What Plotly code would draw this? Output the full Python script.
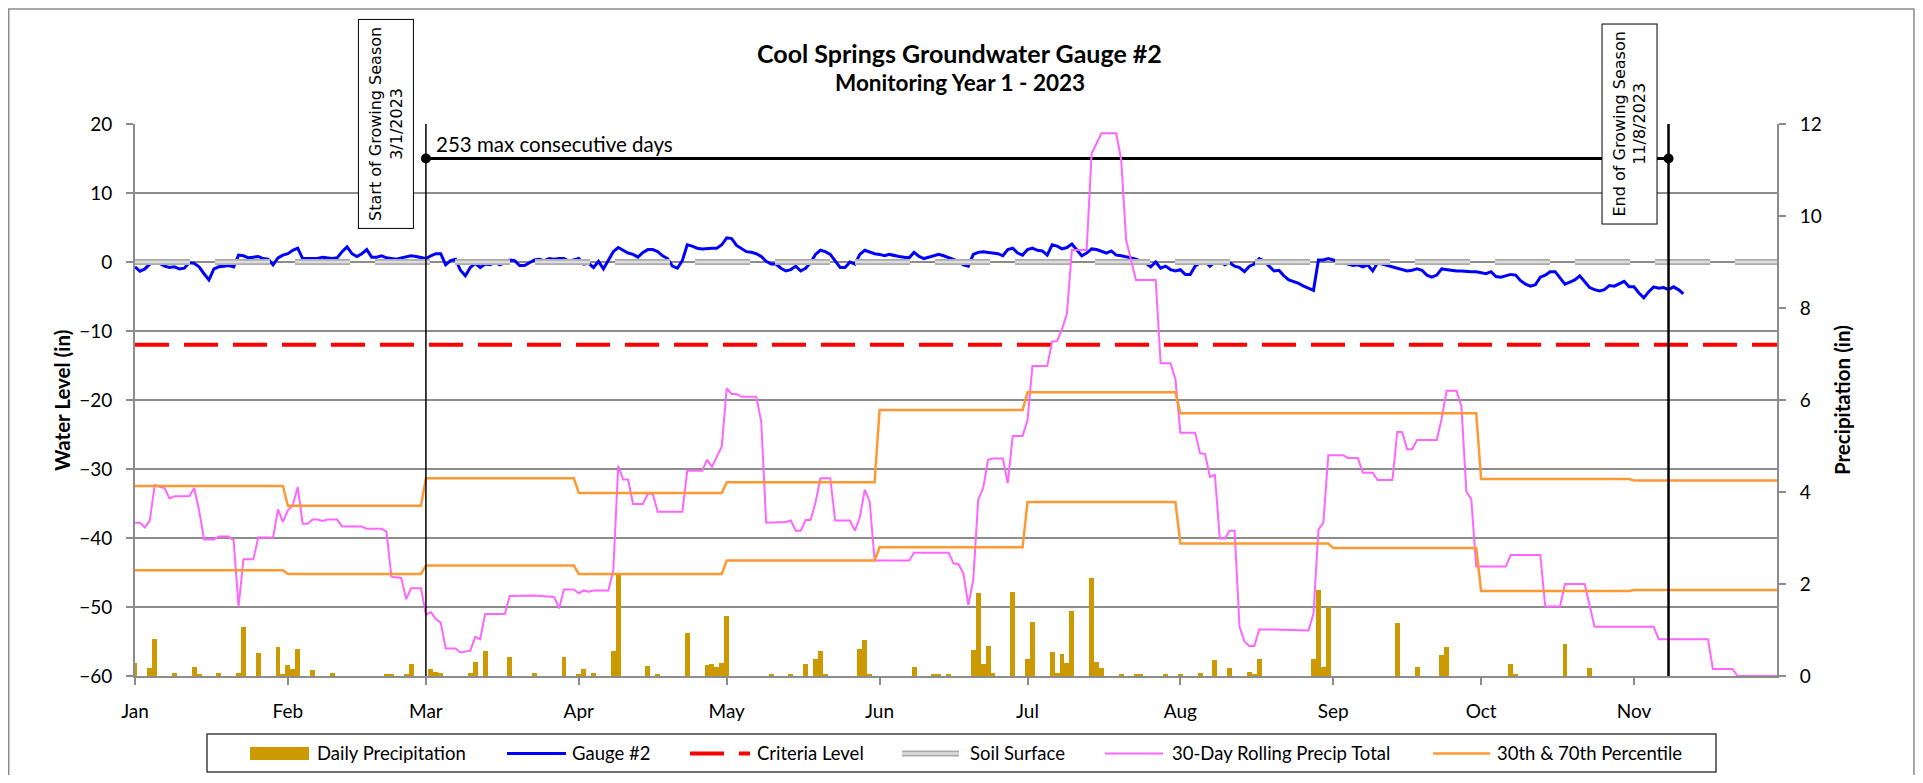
import pandas as pd
import plotly.graph_objects as go

YEAR_START = pd.Timestamp('2023-01-01')
AXIS_END = pd.Timestamp('2023-11-30')
SEASON_START = pd.Timestamp('2023-03-01')
SEASON_END = pd.Timestamp('2023-11-08')

# groundwater gauge, daily readings (in), from Jan 1
gauge_jan = [-0.7, -1.35, -1.0, -0.3, 0.0, -0.2, -0.6, -0.8, -0.7, -1.0, -0.9, -0.1, -0.2, -0.7, -1.7, -2.6,
             -1.0, -0.7, -0.6, -0.5, -0.7, 1.0, 0.9, 0.6, 0.7, 0.8, 0.5, 0.4, -0.4, 0.6, 1.0]
gauge_feb = [1.2, 1.7, 2.0, 0.5, 0.5, 0.6, 0.5, 0.7, 0.6, 0.5, 0.6, 1.5, 2.2, 1.2, 0.8, 1.2, 1.8, 0.7, 0.7, 0.9,
             0.6, 0.5, 0.4, 0.6, 0.8, 0.9, 0.8, 0.6]
gauge_mar = [0.5, 0.9, 1.2, 1.2, -0.4, 0.2, 0.4, -1.2, -2.0, -0.8, -0.2, -0.8, -0.3, -0.4, -0.1, -0.4, -0.1, 0.3,
             0.2, -0.5, -0.5, -0.1, 0.3, 0.4, 0.2, 0.5, 0.4, 0.5, 0.5, 0.1, 0.3]
gauge_apr = [0.5, -0.3, -0.2, -0.8, 0.1, -1.0, 0.2, 1.5, 2.1, 1.7, 1.3, 1.1, 0.7, 1.4, 1.8, 1.8, 1.5, 0.9, 0.5,
             -0.6, -0.9, 0.2, 2.5, 2.3, 2.0, 1.9, 2.0, 2.0, 2.0, 2.5]
gauge_may = [3.5, 3.4, 2.4, 1.9, 1.5, 1.4, 1.2, 0.8, 0.1, -0.3, -0.3, -0.9, -1.3, -1.1, -0.6, -1.3, -0.9, -0.1,
             1.1, 1.7, 1.5, 1.1, 0.2, -0.8, -0.8, 0.0, -0.3, 1.1, 1.7, 1.4, 1.2]
gauge_jun = [1.1, 0.9, 1.1, 0.9, 0.8, 0.7, 0.6, 1.4, 0.8, 0.5, 0.7, 0.8, 1.1, 0.9, 0.6, 0.3, 0.1, -0.4, -0.6,
             1.1, 1.4, 1.5, 1.4, 1.2, 1.2, 0.9, 1.8, 2.0, 1.3, 1.0]
gauge_jul = [1.8, 2.0, 1.7, 1.6, 1.0, 2.5, 2.3, 1.9, 2.1, 2.6, 1.8, 0.9, 1.3, 1.9, 1.8, 1.5, 1.3, 1.6, 1.0, 0.9,
             0.8, 0.6, 0.4, 0.1, -0.2, -0.7, 0.0, -0.9, -0.6, -1.1, -1.3]
gauge_aug = [-1.1, -1.8, -1.8, -0.6, -0.1, 0.1, -0.6, 0.0, 0.2, -0.4, -0.1, -0.6, -0.8, -1.4, -0.6, -0.3, 0.5,
             0.1, -0.6, -1.3, -1.2, -2.0, -2.6, -2.8, -3.1, -3.5, -3.8, -4.1, 0.3, 0.3, 0.5]
gauge_sep = [0.3, 0.0, -0.1, -0.3, -0.5, -0.4, -0.7, -0.4, -1.3, -0.1, -0.3, -0.5, -0.7, -0.8, -1.0, -1.3, -1.2,
             -1.0, -1.2, -1.9, -2.2, -1.9, -1.0, -1.1, -1.3, -1.3, -1.3, -1.4, -1.4, -1.4]
gauge_oct = [-1.5, -1.7, -1.4, -2.1, -2.2, -2.0, -1.8, -1.9, -2.7, -3.2, -3.5, -3.3, -2.2, -1.9, -1.4, -1.4, -2.3,
             -3.2, -2.9, -2.6, -2.0, -2.8, -3.7, -4.0, -4.2, -4.0, -3.4, -3.5, -3.2, -2.8, -3.6]
gauge_nov = [-3.6, -4.5, -5.2, -4.3, -3.6, -3.8, -3.7, -4.0, -3.6, -4.0, -4.6]
gauge_in = (gauge_jan + gauge_feb + gauge_mar + gauge_apr + gauge_may + gauge_jun + gauge_jul
            + gauge_aug + gauge_sep + gauge_oct + gauge_nov)

# daily precipitation (in), day of year counted from Jan 1 = 0
precip_day = [0, 3, 4, 8, 12, 13, 17, 21, 22, 25, 29, 30, 31, 32, 33, 36, 40, 51, 52, 55, 56, 60, 61, 62, 68, 69,
              71, 76, 81, 87, 90, 91, 93, 97, 98, 104, 106, 112, 116, 117, 118, 119, 120, 129, 133, 136, 138, 139,
              140, 147, 148, 149, 158, 162, 163, 165, 170, 171, 172, 173, 174, 178, 181, 182, 186, 187, 188, 189,
              190, 194, 195, 196, 200, 203, 204, 209, 212, 216, 219, 222, 226, 227, 228, 239, 240, 241, 242, 256,
              260, 265, 266, 279, 280, 290, 295]
precip_in = [0.29, 0.17, 0.80, 0.06, 0.19, 0.04, 0.07, 0.07, 1.06, 0.51, 0.62, 0.05, 0.24, 0.15, 0.58, 0.12, 0.07,
             0.04, 0.04, 0.04, 0.26, 0.15, 0.08, 0.06, 0.06, 0.31, 0.55, 0.42, 0.06, 0.41, 0.04, 0.16, 0.07, 0.55,
             2.20, 0.22, 0.04, 0.94, 0.24, 0.26, 0.19, 0.29, 1.30, 0.04, 0.04, 0.26, 0.38, 0.55, 0.04, 0.58, 0.78,
             0.04, 0.20, 0.04, 0.04, 0.04, 0.57, 1.80, 0.27, 0.65, 0.06, 1.82, 0.38, 1.18, 0.52, 0.06, 0.48, 0.29,
             1.41, 2.14, 0.31, 0.18, 0.04, 0.04, 0.04, 0.04, 0.04, 0.07, 0.34, 0.18, 0.09, 0.05, 0.37, 0.36, 1.88,
             0.19, 1.49, 1.15, 0.20, 0.46, 0.64, 0.26, 0.04, 0.69, 0.17]

# 30-day rolling precipitation total (in)
rolling_day = [0, 1, 2, 3, 4, 6, 7, 8, 11, 12, 13, 14, 16, 17, 19, 20, 21, 22, 24, 25, 28, 29, 30, 31, 32, 33, 34,
               35, 36, 37, 38, 39, 41, 42, 46, 47, 50, 51, 52, 54, 55, 56, 58, 59, 60, 61, 62, 63, 65, 66, 68, 69,
               70, 71, 75, 76, 81, 85, 86, 87, 89, 90, 91, 92, 93, 96, 97, 98, 99, 100, 101, 103, 104, 105, 106,
               111, 112, 115, 116, 117, 118, 119, 120, 121, 122, 123, 126, 127, 128, 132, 133, 134, 135, 136, 137,
               138, 139, 141, 142, 145, 146, 147, 148, 149, 150, 157, 158, 165, 166, 167, 168, 169, 170, 171, 172,
               173, 174, 176, 177, 178, 180, 181, 182, 185, 186, 187, 188, 189, 190, 193, 194, 196, 199, 200, 201,
               203, 207, 208, 210, 211, 212, 215, 216, 217, 218, 219, 220, 221, 222, 223, 224, 225, 226, 227, 228,
               231, 238, 239, 240, 241, 242, 245, 246, 248, 249, 251, 252, 255, 256, 257, 258, 259, 260, 264, 265,
               266, 268, 269, 270, 271, 272, 278, 279, 285, 286, 289, 290, 294, 296, 308, 309, 319, 320, 324, 325,
               333]
rolling_in = [3.33, 3.33, 3.23, 3.38, 4.15, 4.08, 3.86, 3.91, 3.91, 4.08, 3.60, 2.97, 2.97, 3.03, 3.03, 2.95, 1.51,
              2.54, 2.54, 3.01, 3.01, 3.62, 3.35, 3.60, 3.71, 4.11, 3.31, 3.31, 3.40, 3.40, 3.37, 3.40, 3.40, 3.25,
              3.25, 3.20, 3.20, 3.14, 2.16, 2.13, 1.67, 1.91, 1.91, 1.33, 1.39, 1.24, 1.16, 0.60, 0.60, 0.51, 0.55,
              0.85, 0.80, 1.35, 1.35, 1.74, 1.75, 1.72, 1.47, 1.88, 1.88, 1.80, 1.86, 1.83, 1.86, 1.86, 2.30, 4.57,
              4.27, 4.27, 3.74, 3.74, 3.96, 3.96, 3.57, 3.57, 4.46, 4.46, 4.70, 4.55, 4.77, 4.99, 6.25, 6.13, 6.13,
              6.07, 6.07, 5.53, 3.33, 3.35, 3.38, 3.16, 3.16, 3.39, 3.39, 3.77, 4.30, 4.30, 3.38, 3.38, 3.16, 3.45,
              4.05, 3.79, 2.51, 2.51, 2.68, 2.68, 2.45, 2.43, 2.23, 1.54, 2.09, 3.83, 4.08, 4.70, 4.73, 4.73, 4.19,
              5.22, 5.22, 5.56, 6.74, 6.74, 7.27, 7.28, 7.54, 7.88, 9.26, 9.26, 11.36, 11.80, 11.80, 11.22, 9.48,
              8.61, 8.61, 6.80, 6.80, 6.45, 5.29, 5.29, 4.84, 4.83, 4.33, 4.37, 2.99, 2.99, 3.16, 3.16, 1.07, 0.75,
              0.65, 0.65, 1.01, 1.01, 0.99, 1.36, 3.18, 3.33, 4.80, 4.80, 4.74, 4.74, 4.42, 4.42, 4.26, 4.26, 5.31,
              5.30, 4.93, 4.93, 5.13, 5.13, 5.60, 6.20, 6.20, 5.86, 4.01, 3.84, 2.38, 2.38, 2.63, 2.63, 1.51, 1.51,
              2.00, 2.00, 1.07, 1.07, 0.80, 0.80, 0.15, 0.15, 0.00, 0.00]

# monthly 30th / 70th percentile of 30-day precip (in)
months = ['2023-01', '2023-02', '2023-03', '2023-04', '2023-05', '2023-06',
          '2023-07', '2023-08', '2023-09', '2023-10', '2023-11']
pct70 = [4.13, 3.70, 4.30, 3.98, 4.21, 5.78, 6.17, 5.71, 5.71, 4.28, 4.25]
pct30 = [2.30, 2.22, 2.40, 2.22, 2.51, 2.80, 3.78, 2.88, 2.78, 1.85, 1.87]

criteria_level = -12
soil_level = 0
season_marker = 15
consecutive_days = 253

FONT = 'Lato'
GRID = '#8C8C8C'
BAR_COLOR = '#CC9900'
GAUGE_COLOR = '#0000FF'
CRIT_COLOR = '#FF0000'
SOIL_OUTER, SOIL_INNER = '#ABABAB', '#DCDCDC'
ROLL_COLOR = '#FF66FF'
PCT_COLOR = '#FF9933'
CRIT_DASH = '34px,15px'
SOIL_DASH = '55px,25px'

gauge_dates = pd.date_range(YEAR_START, periods=len(gauge_in), freq='D')
precip_dates = YEAR_START + pd.to_timedelta(precip_day, unit='D')
rolling_dates = YEAR_START + pd.to_timedelta(rolling_day, unit='D')

pct_x, p70_y, p30_y = [], [], []
for m, hi, lo in zip(months, pct70, pct30):
    start = pd.Timestamp(m + '-01')
    end = min(start + pd.offsets.MonthEnd(0), AXIS_END)
    pct_x += [start, end]
    p70_y += [hi, hi]
    p30_y += [lo, lo]

fig = go.Figure()

fig.add_trace(go.Bar(
    x=precip_dates, y=precip_in, name='Daily Precipitation', yaxis='y2',
    marker=dict(color=BAR_COLOR, line=dict(width=0)), width=1.0 * 86400000,
))
fig.add_trace(go.Scatter(
    x=gauge_dates, y=gauge_in, mode='lines', name='Gauge #2',
    line=dict(color=GAUGE_COLOR, width=3),
))
fig.add_trace(go.Scatter(
    x=[YEAR_START, AXIS_END], y=[criteria_level] * 2, mode='lines', name='Criteria Level',
    line=dict(color=CRIT_COLOR, width=4, dash=CRIT_DASH),
))
fig.add_trace(go.Scatter(
    x=[YEAR_START, AXIS_END], y=[soil_level] * 2, mode='lines', name='Soil Surface',
    line=dict(color=SOIL_OUTER, width=6, dash=SOIL_DASH),
))
fig.add_trace(go.Scatter(
    x=[YEAR_START, AXIS_END], y=[soil_level] * 2, mode='lines', name='Soil Surface', hoverinfo='skip',
    line=dict(color=SOIL_INNER, width=2.5, dash=SOIL_DASH),
))
fig.add_trace(go.Scatter(
    x=rolling_dates, y=rolling_in, mode='lines', name='30-Day Rolling Precip Total', yaxis='y2',
    line=dict(color=ROLL_COLOR, width=2),
))
fig.add_trace(go.Scatter(
    x=pct_x, y=p70_y, mode='lines', name='70th Percentile', yaxis='y2',
    line=dict(color=PCT_COLOR, width=2.5),
))
fig.add_trace(go.Scatter(
    x=pct_x, y=p30_y, mode='lines', name='30th Percentile', yaxis='y2',
    line=dict(color=PCT_COLOR, width=2.5),
))
# max consecutive days bracket
fig.add_trace(go.Scatter(
    x=[SEASON_START, SEASON_END], y=[season_marker] * 2, mode='lines+markers', name='Growing season',
    line=dict(color='black', width=3), marker=dict(color='black', size=10),
))

for d, w in [(SEASON_START, 1.5), (SEASON_END, 2.5)]:
    fig.add_shape(type='line', xref='x', yref='y', x0=d, x1=d, y0=-60, y1=20,
                  line=dict(color='black', width=w), layer='above')

# chart frame
fig.add_shape(type='rect', xref='paper', yref='paper', x0=-0.0769, x1=1.0834, y0=-0.25, y1=1.2083,
              line=dict(color='#8C8C8C', width=1.5), layer='below')

# legend, laid out like the Excel one (paper coords below the plot)
LEG_Y = -0.1404
fig.add_shape(type='rect', xref='paper', yref='paper', x0=0.04385, x1=0.96285, y0=-0.17391, y1=-0.10507,
              line=dict(color='#404040', width=1.5), fillcolor='white', layer='below')
legend_items = [
    ('Daily Precipitation', 0.07004, 0.10597, 0.10962),
    ('Gauge #2', 0.22655, 0.26248, 0.26492),
    ('Criteria Level', 0.33800, 0.37454, 0.37759),
    ('Soil Surface', 0.46711, 0.50183, 0.50731),
    ('30-Day Rolling Precip Total', 0.59074, 0.62607, 0.63033),
    ('30th & 70th Percentile', 0.79050, 0.82521, 0.82826),
]
sw = {item[0]: item for item in legend_items}
fig.add_shape(type='rect', xref='paper', yref='paper', x0=sw['Daily Precipitation'][1],
              x1=sw['Daily Precipitation'][2], y0=-0.1522, y1=-0.1286, fillcolor=BAR_COLOR, line_width=0)
line_swatches = [
    ('Gauge #2', GAUGE_COLOR, 3, 'solid'),
    ('Criteria Level', CRIT_COLOR, 4, CRIT_DASH),
    ('Soil Surface', SOIL_OUTER, 6, 'solid'),
    ('Soil Surface', SOIL_INNER, 2.5, 'solid'),
    ('30-Day Rolling Precip Total', ROLL_COLOR, 2, 'solid'),
    ('30th & 70th Percentile', PCT_COLOR, 2.5, 'solid'),
]
for name, color, width, dash in line_swatches:
    fig.add_shape(type='line', xref='paper', yref='paper', x0=sw[name][1], x1=sw[name][2], y0=LEG_Y, y1=LEG_Y,
                  line=dict(color=color, width=width, dash=dash))
for name, _, _, tx in legend_items:
    fig.add_annotation(xref='paper', yref='paper', x=tx, y=-0.1395, xanchor='left', yanchor='middle',
                       showarrow=False, text=name, font=dict(family=FONT, size=18.5, color='black'))

fig.add_annotation(xref='paper', yref='paper', x=0.5024, y=1.1286, xanchor='center', yanchor='middle',
                   showarrow=False, text='<b>Cool Springs Groundwater Gauge #2</b>',
                   font=dict(family=FONT, size=25, color='black'))
fig.add_annotation(xref='paper', yref='paper', x=0.5024, y=1.0743, xanchor='center', yanchor='middle',
                   showarrow=False, text='<b>Monitoring Year 1 - 2023</b>',
                   font=dict(family=FONT, size=22.5, color='black'))
fig.add_annotation(x=SEASON_START, y=season_marker, xref='x', yref='y', showarrow=False,
                   xanchor='left', yanchor='bottom', xshift=8, yshift=1,
                   text=f'{consecutive_days} max consecutive days', font=dict(family=FONT, size=20.5, color='black'))

# axis titles
fig.add_annotation(xref='paper', yref='paper', x=-0.0445, y=0.5, xanchor='center', yanchor='middle',
                   showarrow=False, textangle=-90, text='<b>Water Level (in)</b>',
                   font=dict(family=FONT, size=20.5, color='black'))
fig.add_annotation(xref='paper', yref='paper', x=1.0396, y=0.5, xanchor='center', yanchor='middle',
                   showarrow=False, textangle=-90, text='<b>Precipitation (in)</b>',
                   font=dict(family=FONT, size=20.5, color='black'))

box_font = dict(family='DejaVu Sans', size=16, color='black')
fig.add_annotation(x=SEASON_START, xref='x', y=1, yref='paper', showarrow=False, textangle=-90,
                   xanchor='right', yanchor='middle', xshift=-12,
                   text='Start of Growing Season<br>3/1/2023', font=box_font,
                   bgcolor='white', bordercolor='black', borderwidth=1, borderpad=7)
fig.add_annotation(x=SEASON_END, xref='x', y=1, yref='paper', showarrow=False, textangle=-90,
                   xanchor='right', yanchor='middle', xshift=-11,
                   text='End of Growing Season<br>11/8/2023', font=box_font,
                   bgcolor='white', bordercolor='black', borderwidth=1, borderpad=7)

# the page body adds 8px around the figure, so the figure is 16px smaller than the window
fig.update_layout(
    width=1907, height=767,
    margin=dict(l=127, r=138, t=116, b=99),
    paper_bgcolor='white', plot_bgcolor='white',
    font=dict(family=FONT, size=19, color='black'),
    bargap=0,
    showlegend=False,
    xaxis=dict(
        type='date', range=[YEAR_START, AXIS_END], tickformat='%b', dtick='M1', tick0=YEAR_START,
        showgrid=False, showline=True, linecolor=GRID, linewidth=2, automargin=False,
        ticks='outside', ticklen=7, tickcolor=GRID, tickwidth=1.5, ticklabelstandoff=10,
        tickfont=dict(size=19),
    ),
    yaxis=dict(
        range=[-60, 20], dtick=10, showgrid=True, gridcolor=GRID, gridwidth=1.5, zeroline=False,
        showline=True, linecolor=GRID, linewidth=2, ticks='outside', ticklen=7, tickcolor=GRID,
        tickwidth=1.5, ticklabelstandoff=10, tickfont=dict(size=19), automargin=False,
    ),
    yaxis2=dict(
        range=[0, 12], dtick=2, overlaying='y', side='right', showgrid=False, zeroline=False,
        showline=True, linecolor=GRID, linewidth=2, ticks='outside', ticklen=7, tickcolor=GRID,
        tickwidth=1.5, ticklabelstandoff=10, tickfont=dict(size=19), automargin=False,
    ),
)

fig.write_html('out.html')
